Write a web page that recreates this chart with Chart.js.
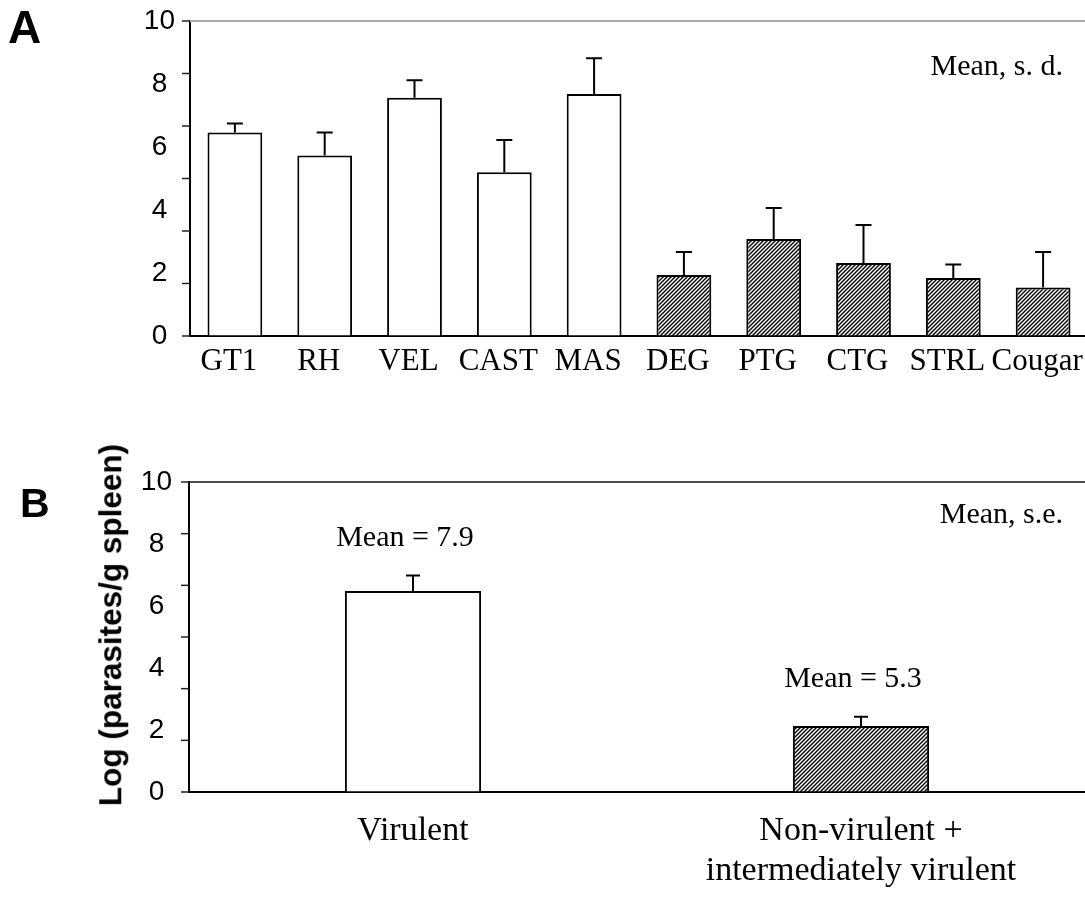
<!DOCTYPE html>
<html>
<head>
<meta charset="utf-8">
<script src="https://cdn.jsdelivr.net/npm/chart.js@4.4.0/dist/chart.umd.min.js"></script>
<style>
  body { margin: 0; background: #fff; width: 1085px; height: 897px; overflow: hidden; position: relative; }
  canvas { position: absolute; left: 0; }
  .panel { position: absolute; font-family: 'Liberation Sans', Arial, sans-serif; font-weight: bold; color: #000; line-height: 1; }
  #ytitle { position: absolute; left: 111px; top: 625px; transform: translate(-50%, -50%) rotate(-90deg);
            font-family: 'Liberation Sans', Arial, sans-serif; font-weight: bold; font-size: 31.5px; line-height: 1; white-space: nowrap; }
</style>
</head>
<body>
<canvas id="chartA" width="1088" height="400" style="top:0"></canvas>
<canvas id="chartB" width="1085" height="457" style="top:440px"></canvas>
<div class="panel" style="left:8px;top:4px;font-size:46px">A</div>
<div class="panel" style="left:20px;top:483px;font-size:41px">B</div>
<div id="ytitle">Log (parasites/g spleen)</div>
<script>
// Panel A: spleen load per strain (mean, s.d.)
const strainLabels = ['GT1', 'RH', 'VEL', 'CAST', 'MAS', 'DEG', 'PTG', 'CTG', 'STRL', 'Cougar'];
const strainMeans = [6.46, 5.73, 7.56, 5.20, 7.68, 1.94, 3.08, 2.32, 1.84, 1.54];
const strainSD = [0.29, 0.73, 0.56, 1.02, 1.14, 0.73, 0.98, 1.20, 0.43, 1.13];
const strainVirulent = [true, true, true, true, true, false, false, false, false, false];

// Panel B: grouped strains (mean, s.e.)
const groupLabels = [['Virulent'], ['Non-virulent +', 'intermediately virulent']];
const groupMeans = [6.48, 2.13];
const groupSE = [0.50, 0.30];
const groupMeanText = ['Mean = 7.9', 'Mean = 5.3'];
const groupVirulent = [true, false];

const yTicks = [0, 2, 4, 6, 8, 10];

// diagonal hatch for the non-virulent bars
function makeHatch() {
  const c = document.createElement('canvas');
  c.width = 4; c.height = 4;
  const g = c.getContext('2d');
  g.fillStyle = '#fff';
  g.fillRect(0, 0, 4, 4);
  g.strokeStyle = '#000';
  g.lineWidth = 1.4;
  g.beginPath();
  g.moveTo(-1, 5); g.lineTo(5, -1);
  g.moveTo(-1, 1); g.lineTo(1, -1);
  g.moveTo(3, 5); g.lineTo(5, 3);
  g.stroke();
  return g.createPattern(c, 'repeat');
}
const hatch = makeHatch();

// error bars (upper half), top frame, tick marks and notes
const extras = {
  id: 'extras',
  afterDatasetsDraw(chart, args, opts) {
    const { ctx, chartArea, scales: { y } } = chart;
    const ds = chart.data.datasets[0];
    const bars = chart.getDatasetMeta(0).data;
    ctx.save();
    ctx.strokeStyle = '#000';
    ctx.lineWidth = 2;
    bars.forEach((bar, i) => {
      const top = y.getPixelForValue(ds.data[i] + opts.errors[i]);
      ctx.beginPath();
      ctx.moveTo(bar.x, bar.y);
      ctx.lineTo(bar.x, top);
      ctx.moveTo(bar.x - opts.cap / 2, top);
      ctx.lineTo(bar.x + opts.cap / 2, top);
      ctx.stroke();
    });

    ctx.strokeStyle = opts.frameColor;
    ctx.lineWidth = opts.frameWidth;
    ctx.beginPath();
    ctx.moveTo(chartArea.left, chartArea.top);
    ctx.lineTo(chartArea.right, chartArea.top);
    ctx.stroke();

    // the original figure has 6 tick intervals that don't line up with its labels
    ctx.strokeStyle = '#222';
    ctx.lineWidth = 1.5;
    for (let i = 0; i <= 6; i++) {
      const py = y.getPixelForValue(y.max * i / 6);
      ctx.beginPath();
      ctx.moveTo(chartArea.left - 8, py);
      ctx.lineTo(chartArea.left, py);
      ctx.stroke();
    }

    ctx.fillStyle = '#000';
    ctx.font = '30px "Liberation Serif"';
    ctx.textAlign = 'right';
    ctx.textBaseline = 'alphabetic';
    ctx.fillText(opts.note, chartArea.right - opts.noteDx, chartArea.top + opts.noteDy);
    if (opts.meanText) {
      ctx.textAlign = 'center';
      bars.forEach((bar, i) => {
        const top = y.getPixelForValue(ds.data[i] + opts.errors[i]);
        ctx.fillText(opts.meanText[i], bar.x - 8, top - 30);
      });
    }
    ctx.restore();
  }
};

// Panel A
new Chart(document.getElementById('chartA'), {
  type: 'bar',
  data: {
    labels: strainLabels,
    datasets: [
      {
        data: strainMeans,
        backgroundColor: strainVirulent.map(v => (v ? '#fff' : hatch)),
        borderColor: '#000',
        borderWidth: 2,
        barPercentage: 0.61,
        categoryPercentage: 1,
      },
    ],
  },
  options: {
    responsive: false,
    animation: false,
    devicePixelRatio: 1,
    layout: { padding: { top: 21, left: 0, right: 0, bottom: 0 } },
    plugins: {
      legend: { display: false },
      tooltip: { enabled: false },
      extras: { errors: strainSD, cap: 16, frameColor: '#a8a8a8', frameWidth: 2, note: 'Mean, s. d.', noteDx: 25, noteDy: 54 },
    },
    scales: {
      x: {
        grid: { color: 'transparent', drawOnChartArea: false, drawTicks: true, tickLength: 7 },
        border: { color: '#000', width: 2 },
        ticks: { color: '#000', font: { family: 'Liberation Serif', size: 31, lineHeight: 1.2 }, padding: 0, labelOffset: -6, maxRotation: 0, autoSkip: false },
        afterFit: s => { s.height = 64; s.paddingLeft = 0; s.paddingRight = 0; },
      },
      y: {
        min: 0,
        max: 10,
        afterBuildTicks: s => { s.ticks = yTicks.map(v => ({ value: v })); },
        grid: { color: 'transparent', drawOnChartArea: false, drawTicks: true, tickLength: 15 },
        border: { color: '#000', width: 2 },
        ticks: { color: '#000', font: { family: 'Liberation Sans', size: 28 }, padding: 0, crossAlign: 'center' },
        afterFit: s => { s.width = 190; },
      },
    },
  },
  plugins: [extras],
});

// Panel B
new Chart(document.getElementById('chartB'), {
  type: 'bar',
  data: {
    labels: groupLabels,
    datasets: [
      {
        data: groupMeans,
        backgroundColor: groupVirulent.map(v => (v ? '#fff' : hatch)),
        borderColor: '#000',
        borderWidth: 2,
        barPercentage: 0.304,
        categoryPercentage: 1,
      },
    ],
  },
  options: {
    responsive: false,
    animation: false,
    devicePixelRatio: 1,
    layout: { padding: { top: 42, left: 0, right: 0, bottom: 0 } },
    plugins: {
      legend: { display: false },
      tooltip: { enabled: false },
      extras: { errors: groupSE, cap: 14, frameColor: '#111', frameWidth: 1.5, note: 'Mean, s.e.', noteDx: 22, noteDy: 41, meanText: groupMeanText },
    },
    scales: {
      x: {
        grid: { color: 'transparent', drawOnChartArea: false, drawTicks: true, tickLength: 19 },
        border: { color: '#000', width: 2 },
        ticks: { color: '#000', font: { family: 'Liberation Serif', size: 34, lineHeight: 1.18 }, padding: 0, maxRotation: 0, autoSkip: false },
        afterFit: s => { s.height = 105; },
      },
      y: {
        min: 0,
        max: 10,
        afterBuildTicks: s => { s.ticks = yTicks.map(v => ({ value: v })); },
        grid: { color: 'transparent', drawOnChartArea: false, drawTicks: true, tickLength: 17 },
        border: { color: '#000', width: 2 },
        ticks: { color: '#000', font: { family: 'Liberation Sans', size: 28 }, padding: 0, crossAlign: 'center' },
        afterFit: s => { s.width = 189; },
      },
    },
  },
  plugins: [extras],
});
</script>
</body>
</html>
